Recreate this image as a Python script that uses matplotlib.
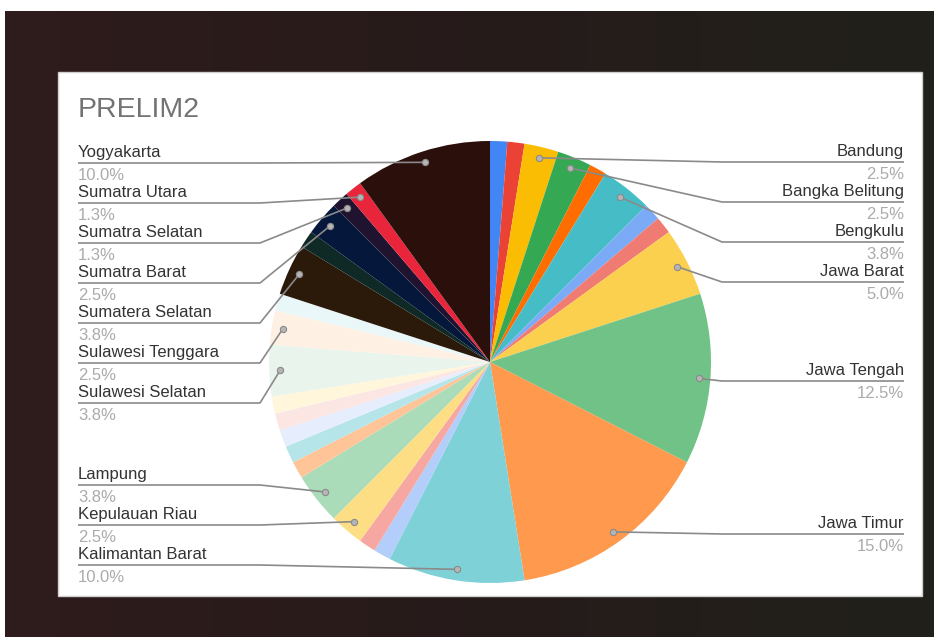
import math
import numpy as np
import matplotlib
matplotlib.use("Agg")
import matplotlib.pyplot as plt
from matplotlib.colors import LinearSegmentedColormap
from matplotlib.patches import Rectangle

plt.rcParams['font.family'] = ['Liberation Sans', 'DejaVu Sans']

# data (clockwise from 12 o'clock), counts of entries
regions = ["Aceh", "Bali", "Bandung", "Bangka Belitung", "Banten", "Bengkulu",
           "DKI Jakarta", "Jambi", "Jawa Barat", "Jawa Tengah", "Jawa Timur",
           "Kalimantan Barat", "Kalimantan Selatan", "Kalimantan Timur",
           "Kepulauan Riau", "Lampung", "Maluku", "NTB", "NTT", "Papua", "Riau",
           "Sulawesi Selatan", "Sulawesi Tenggara", "Sulawesi Utara",
           "Sumatera Selatan", "Sumatera Utara", "Sumatra Barat",
           "Sumatra Selatan", "Sumatra Utara", "Yogyakarta"]
counts = [1, 1, 2, 2, 1, 3, 1, 1, 4, 10, 12, 8, 1, 1, 2, 3, 1, 1, 1, 1, 1,
          3, 2, 1, 3, 1, 2, 1, 1, 8]
colors = ["#4285F4", "#EA4335", "#FBBC04", "#34A853", "#FF6D01", "#46BDC6",
          "#7BAAF7", "#F07B72", "#FCD04F", "#71C287", "#FF994D", "#7ED1D7",
          "#B3CEFB", "#F7A7A1", "#FDDE85", "#AADCB9", "#FFC599", "#B5E5E8",
          "#E6EEFD", "#FCE6E4", "#FFF6DC", "#E9F5EC", "#FFF0E4", "#EAF7F8",
          "#2B1A0A", "#0F2A26", "#05173A", "#1F1330", "#E8253A", "#2A0F0B"]

# which labels are shown, and where their leader line sits (pixel y from top)
left_labels = ["Yogyakarta", "Sumatra Utara", "Sumatra Selatan", "Sumatra Barat",
               "Sumatera Selatan", "Sulawesi Tenggara", "Sulawesi Selatan",
               "Lampung", "Kepulauan Riau", "Kalimantan Barat"]
left_y = [163, 203, 243, 283, 323, 363, 403, 485, 525, 565]
right_labels = ["Bandung", "Bangka Belitung", "Bengkulu", "Jawa Barat",
                "Jawa Tengah", "Jawa Timur"]
right_y = [162, 202, 242, 282, 381, 534]

W, H = 939, 637


def Y(y):
    return H - y


def fmt_pct(c, total):
    p = c * 100.0 / total
    return "%.1f%%" % (math.floor(p * 10 + 0.5) / 10)


fig = plt.figure(figsize=(W / 100, H / 100), dpi=100)
ax = fig.add_axes([0, 0, 1, 1])

# photo background + chart card
bg = LinearSegmentedColormap.from_list("bg", ["#2f1b1c", "#261c1a", "#21201a"])
ax.imshow(np.linspace(0, 1, 256).reshape(1, -1), cmap=bg, aspect='auto',
          extent=(5, 934, Y(637), Y(11)), zorder=0)
ax.add_patch(Rectangle((58, Y(596)), 864, 524, facecolor='white',
                       edgecolor='#cfcfcf', lw=1, zorder=1))

cx, cy, R = 490, Y(362), 221
wedges, _ = ax.pie(counts, colors=colors, startangle=90, counterclock=False,
                   center=(cx, cy), radius=R, frame=True,
                   wedgeprops=dict(linewidth=0, zorder=2))

total = sum(counts)
ax.text(78, Y(110), "PRELIM2", fontsize=20.5, color='#737373',
        va='center', ha='left', zorder=5)


def label(name, ly, side):
    i = regions.index(name)
    w = wedges[i]
    th = math.radians((w.theta1 + w.theta2) / 2)
    dx, dy = cx + 0.95 * R * math.cos(th), cy + 0.95 * R * math.sin(th)
    if side == 'left':
        x0, xe, ha = 78, 260, 'left'
    else:
        x0, xe, ha = 904, 722, 'right'
    ax.plot([x0, xe, dx], [Y(ly), Y(ly), dy], color='#8a8a8a', lw=1.2,
            zorder=4, solid_capstyle='butt')
    ax.plot(dx, dy, 'o', ms=4.5, mfc='#b5b5b5', mec='#8a8a8a', mew=0.8, zorder=5)
    ax.text(x0, Y(ly - 6), name, fontsize=12, color='#333333', ha=ha,
            va='baseline', zorder=5)
    ax.text(x0, Y(ly + 17), fmt_pct(counts[i], total), fontsize=12,
            color='#ababab', ha=ha, va='baseline', zorder=5)


for n, ly in zip(left_labels, left_y):
    label(n, ly, 'left')
for n, ly in zip(right_labels, right_y):
    label(n, ly, 'right')

ax.set_xlim(0, W)
ax.set_ylim(0, H)
ax.set_aspect('auto')
ax.set_axis_off()

fig.savefig("out.png", dpi=100, facecolor='white')
